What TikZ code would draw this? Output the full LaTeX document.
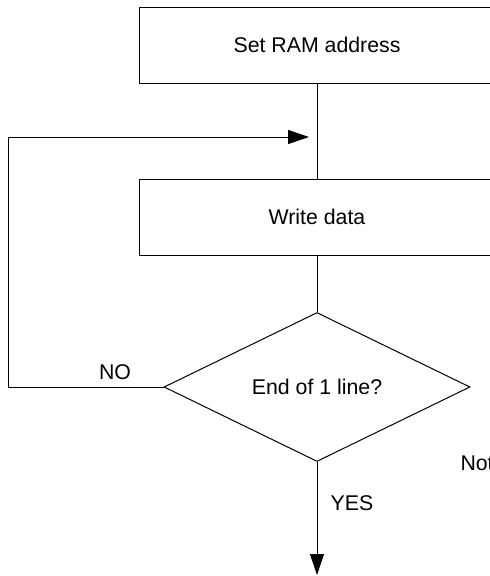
\documentclass[tikz,border=0pt]{standalone}
\usepackage{fontspec}
\setmainfont{Liberation Sans}
\usetikzlibrary{shapes.geometric,arrows.meta}

\begin{document}
\begin{tikzpicture}[x=1pt, y=-1pt, line width=1pt,
  every node/.style={font=\fontsize{21.3}{25}\selectfont},
  procbox/.style={draw, minimum width=356pt, minimum height=76pt, inner sep=0pt},
  decision/.style={draw, diamond, minimum width=306pt, minimum height=149pt, inner sep=0pt},
  flow/.style={-{Triangle[length=21pt,width=14pt]}}]
\useasboundingbox (0,0) rectangle (490,576);
\clip (0,0) rectangle (490,576);
% loop body
\node[procbox] (setaddr) at (317,45) {Set RAM address};
\node[procbox] (writedata) at (317,217) {Write data};
\node[decision] (endline) at (317,387) {End of 1 line?};
\coordinate (loopcorner) at (8,137);
\coordinate (loopin) at (309,137);
\coordinate (exit) at (317,575);
\draw (setaddr.south) -- (writedata.north);
\draw (writedata.south) -- (endline.north);
\draw[flow] (endline.west) -| (loopcorner) -- (loopin);
\draw[flow] (endline.south) -- (exit);
% branch labels
\node (no) at (115,372) {NO};
\node (yes) at (352,503) {YES};
\node[anchor=west, inner sep=0pt] (note) at (460,463) {Not};
\end{tikzpicture}
\end{document}
